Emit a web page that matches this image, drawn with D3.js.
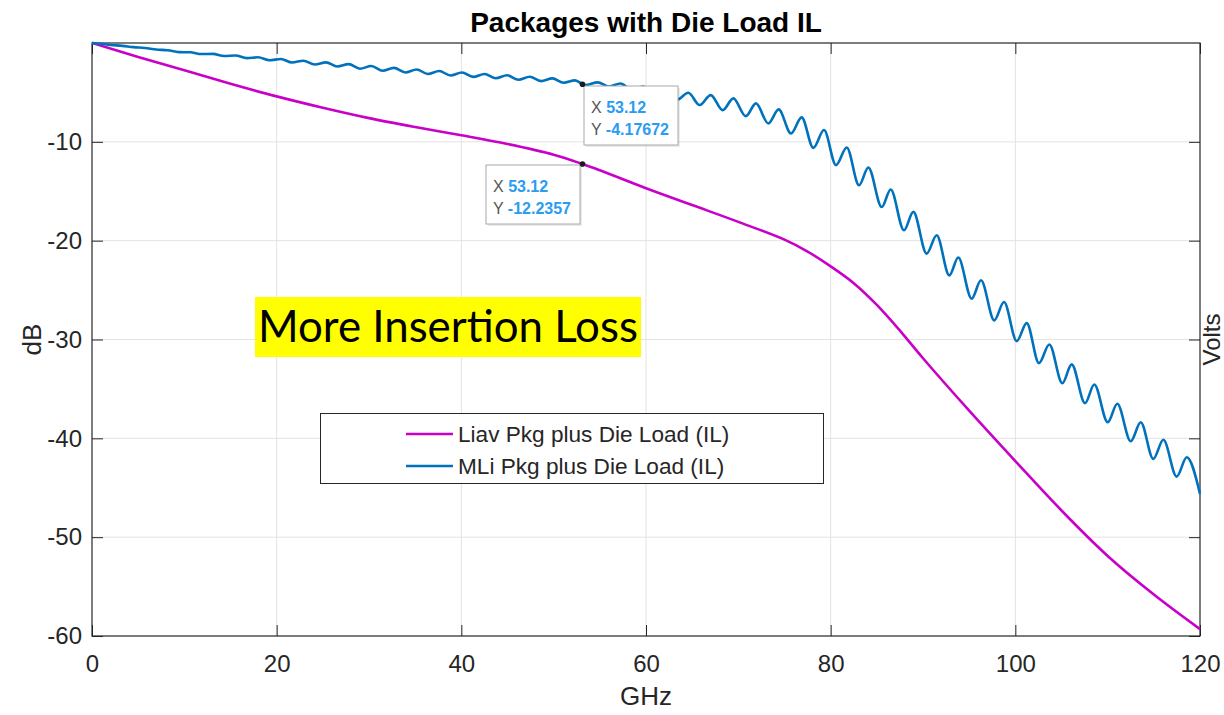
<!DOCTYPE html>
<html><head><meta charset="utf-8">
<script src="https://cdn.jsdelivr.net/npm/d3@7"></script>
<style>body{margin:0;background:#fff} svg{display:block}</style>
</head><body>
<svg id="c" width="1224" height="715"></svg>
<script>
// ---------- data ----------
const chartTitle = "Packages with Die Load IL";
const xLabel = "GHz", yLabel = "dB", y2Label = "Volts";
const xTicks = [0, 20, 40, 60, 80, 100, 120];
const yTicks = [-60, -50, -40, -30, -20, -10];
const seriesNames = ["Liav Pkg plus Die Load (IL)", "MLi Pkg plus Die Load (IL)"];
const annotationText = "More Insertion Loss";

const liavGHz = [0, 5, 10, 15, 20, 25, 30, 35, 40, 45, 50, 53.12, 55, 60, 65, 70, 75, 77.5, 80, 82.5, 85, 87.5, 90, 95, 100, 105, 110, 115, 120];
const liavDB  = [0, -1.42, -2.76, -4.12, -5.4, -6.55, -7.6, -8.5, -9.33, -10.22, -11.3, -12.24, -12.88, -14.7, -16.4, -18.1, -19.9, -21.1, -22.6, -24.3, -26.5, -29.1, -31.9, -37.2, -42.3, -47.3, -51.9, -55.8, -59.3];

const mliGHz = [0, 0.82, 2.05, 3.28, 4.5, 5.73, 6.96, 8.19, 9.41, 10.64, 11.86, 13.08, 14.31, 15.54, 16.77, 17.99, 19.22, 20.45, 21.67, 22.9, 24.12, 25.34, 26.57, 27.8, 29.02, 30.25, 31.48, 32.71, 33.93, 35.16, 36.38, 37.6, 38.83, 40.06, 41.28, 42.51, 43.73, 44.95, 46.18, 47.41, 48.63, 49.86, 51.08, 52.31, 53.4, 54.77, 55.99, 57.23, 58.45, 59.68, 60.9, 62.12, 63.35, 64.58, 65.82, 67.01, 68.31, 69.46, 70.8, 71.91, 73.25, 74.37, 75.7, 76.86, 78.12, 79.28, 80.58, 81.74, 83.07, 84.08, 85.53, 86.5, 87.94, 88.95, 90.4, 91.48, 92.85, 93.82, 95.27, 96.28, 97.72, 98.77, 100.15, 101.23, 102.56, 103.68, 105.09, 106.1, 107.55, 108.55, 110.01, 111.04, 112.5, 113.58, 114.94, 116.03, 117.48, 118.56, 120];
const mliDB  = [0, -0.075, -0.2, -0.29, -0.42, -0.5, -0.66, -0.73, -0.92, -0.94, -1.12, -1.1, -1.32, -1.26, -1.53, -1.44, -1.75, -1.62, -1.97, -1.79, -2.18, -1.96, -2.38, -2.14, -2.6, -2.33, -2.81, -2.52, -2.98, -2.68, -3.14, -2.83, -3.29, -2.98, -3.43, -3.13, -3.57, -3.27, -3.72, -3.42, -3.86, -3.58, -4.02, -3.78, -4.25, -3.98, -4.4, -4.1, -4.7, -4.4, -5.2, -4.7, -5.75, -5.04, -6.28, -5.27, -6.79, -5.6, -7.4, -6.11, -8.14, -6.72, -9.15, -7.53, -10.61, -8.81, -12.36, -10.57, -14.39, -12.59, -16.59, -14.82, -18.95, -17.09, -21.31, -19.45, -23.51, -21.71, -25.87, -24.01, -28.06, -26.21, -30.16, -28.34, -32.39, -30.5, -34.42, -32.52, -36.44, -34.55, -38.37, -36.5, -40.29, -38.37, -42.08, -40.15, -43.87, -41.92, -45.62];

const tipGHz = 53.12;
const tipLiavDB = -12.2357;
const tipMliDB = -4.17672;

// ---------- layout ----------
const W = 1224, H = 715;
const L = 92, R = 1200, T = 43, B = 636;
const font = "'Liberation Sans', Arial, Helvetica, sans-serif";
const cMag = "#c800c8", cBlue = "#0072bd", cAxis = "#262626";

const svg = d3.select("#c");
const x = d3.scaleLinear().domain([0, 120]).range([L, R]);
const y = d3.scaleLinear().domain([-60, 0]).range([B, T]);

svg.append("rect").attr("width", W).attr("height", H).attr("fill", "#fff");

// grid
const grid = svg.append("g").attr("stroke", "#e3e3e3").attr("stroke-width", 1);
xTicks.slice(1, -1).forEach(v => grid.append("line").attr("x1", x(v)).attr("x2", x(v)).attr("y1", T).attr("y2", B));
yTicks.slice(1).forEach(v => grid.append("line").attr("x1", L).attr("x2", R).attr("y1", y(v)).attr("y2", y(v)));

// axes
const tickLen = 11;
const fmt = d => String(d);
const gx = svg.append("g").attr("transform", `translate(0,${B})`)
  .call(d3.axisBottom(x).tickValues(xTicks).tickFormat(fmt).tickSizeInner(-tickLen).tickSizeOuter(0).tickPadding(19));
const gy = svg.append("g").attr("transform", `translate(${L},0)`)
  .call(d3.axisLeft(y).tickValues(yTicks).tickFormat(fmt).tickSizeInner(-tickLen).tickSizeOuter(0).tickPadding(10));
const gxt = svg.append("g").attr("transform", `translate(0,${T})`)
  .call(d3.axisTop(x).tickValues(xTicks).tickSizeInner(-tickLen).tickSizeOuter(0).tickFormat(""));
const gyr = svg.append("g").attr("transform", `translate(${R},0)`)
  .call(d3.axisRight(y).tickValues(yTicks).tickSizeInner(-tickLen).tickSizeOuter(0).tickFormat(""));
[gx, gy, gxt, gyr].forEach(g => {
  g.select(".domain").remove();
  g.selectAll(".tick line").attr("stroke", cAxis).attr("stroke-width", 1);
  g.selectAll("text").attr("font-family", font).attr("font-size", 24).attr("fill", cAxis);
});
gx.selectAll("text").attr("dy", "0.71em");

svg.append("rect").attr("x", L).attr("y", T).attr("width", R - L).attr("height", B - T)
  .attr("fill", "none").attr("stroke", cAxis).attr("stroke-width", 1.2);

// clip
svg.append("clipPath").attr("id", "clip").append("rect")
  .attr("x", L).attr("y", T - 2).attr("width", R - L + 1).attr("height", B - T + 4);

const line = d3.line().x(d => x(d[0])).y(d => y(d[1]));
const plot = svg.append("g").attr("clip-path", "url(#clip)");
plot.append("path").datum(liavGHz.map((g, i) => [g, liavDB[i]]))
  .attr("d", line.curve(d3.curveCatmullRom.alpha(0.5))).attr("fill", "none").attr("stroke", cMag).attr("stroke-width", 2.6).attr("stroke-linejoin", "round");
plot.append("path").datum(mliGHz.map((g, i) => [g, mliDB[i]]))
  .attr("d", line.curve(d3.curveMonotoneX)).attr("fill", "none").attr("stroke", cBlue).attr("stroke-width", 2.6).attr("stroke-linejoin", "round");

// title & labels
svg.append("text").attr("x", (L + R) / 2).attr("y", 32).attr("text-anchor", "middle")
  .attr("font-family", font).attr("font-size", 28).attr("font-weight", "bold").attr("fill", "#000").text(chartTitle);
svg.append("text").attr("x", (L + R) / 2).attr("y", 705).attr("text-anchor", "middle")
  .attr("font-family", font).attr("font-size", 26).attr("fill", cAxis).text(xLabel);
svg.append("text").attr("transform", `translate(41,${(T + B) / 2}) rotate(-90)`).attr("text-anchor", "middle")
  .attr("font-family", font).attr("font-size", 26).attr("fill", cAxis).text(yLabel);
svg.append("text").attr("transform", `translate(1220,${(T + B) / 2}) rotate(-90)`).attr("text-anchor", "middle")
  .attr("font-family", font).attr("font-size", 24).attr("fill", cAxis).text(y2Label);

// datatips
function datatip(gx0, db, bx, by, bw, bh, valTxt) {
  svg.append("rect").attr("x", bx + 2).attr("y", by + 2).attr("width", bw).attr("height", bh)
    .attr("fill", "#000").attr("opacity", 0.08);
  svg.append("rect").attr("x", bx).attr("y", by).attr("width", bw).attr("height", bh)
    .attr("fill", "#fff").attr("stroke", "#a8a8a8").attr("stroke-width", 1);
  const t1 = svg.append("text").attr("x", bx + 7).attr("y", by + 27).attr("font-family", font).attr("font-size", 16);
  t1.append("tspan").attr("fill", "#555").text("X ");
  t1.append("tspan").attr("fill", "#2a9cf2").attr("font-weight", "bold").text(String(gx0));
  const t2 = svg.append("text").attr("x", bx + 7).attr("y", by + 49).attr("font-family", font).attr("font-size", 16);
  t2.append("tspan").attr("fill", "#555").text("Y ");
  t2.append("tspan").attr("fill", "#2a9cf2").attr("font-weight", "bold").text(valTxt);
  svg.append("circle").attr("cx", x(gx0)).attr("cy", y(db)).attr("r", 2.8).attr("fill", "#1a1a1a");
}
datatip(tipGHz, tipMliDB, 584, 86, 94, 59, String(tipMliDB));
datatip(tipGHz, tipLiavDB, 486, 165, 94, 59, String(tipLiavDB));

// annotation
const ann = svg.append("g");
ann.append("rect").attr("x", 255).attr("y", 297).attr("width", 386).attr("height", 60).attr("fill", "#ffff00");
const at = ann.append("text").attr("x", 258).attr("y", 342).attr("font-family", "Lato, 'Open Sans', sans-serif")
  .attr("font-size", 36).attr("fill", "#000").text(annotationText);
const aw = at.node().getComputedTextLength();
at.attr("font-size", 36 * 380 / aw);

// legend
const lg = svg.append("g");
lg.append("rect").attr("x", 320.5).attr("y", 413.5).attr("width", 503).attr("height", 70)
  .attr("fill", "#fff").attr("stroke", cAxis).attr("stroke-width", 1);
[cMag, cBlue].forEach((c, i) => {
  const yy = 434 + i * 32;
  lg.append("line").attr("x1", 406).attr("x2", 453).attr("y1", yy).attr("y2", yy).attr("stroke", c).attr("stroke-width", 2.6);
  lg.append("text").attr("x", 458).attr("y", yy + 8).attr("font-family", font).attr("font-size", 22.6)
    .attr("fill", cAxis).text(seriesNames[i]);
});
</script>
</body></html>
